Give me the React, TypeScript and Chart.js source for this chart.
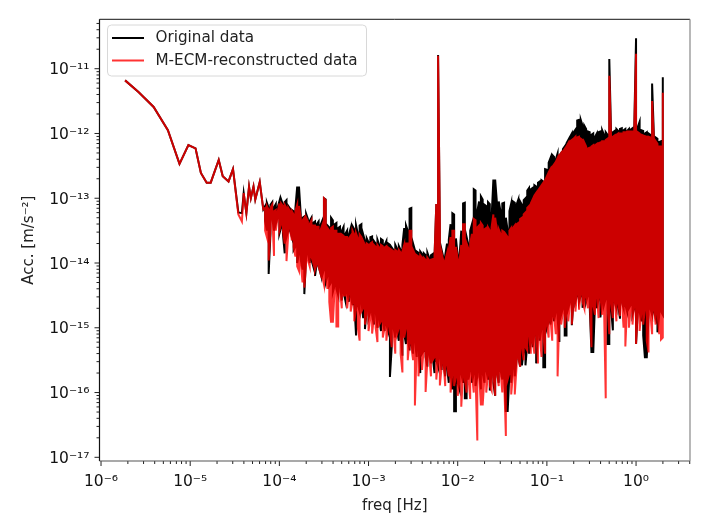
import React, { useEffect, useRef } from "react";
import { Chart, registerables } from "chart.js";

Chart.register(...registerables);

// log10 of frequency [Hz] and log10 of acceleration
const lowLogFreq = [-5.73, -5.58, -5.41, -5.25, -5.12, -5.02, -4.94, -4.88, -4.815, -4.77, -4.68, -4.635, -4.57, -4.52, -4.46, -4.42, -4.4, -4.37, -4.34, -4.32, -4.29, -4.27, -4.22, -4.18];
const lowBlack = [-11.18, -11.36, -11.59, -11.95, -12.47, -12.18, -12.23, -12.61, -12.76, -12.76, -12.41, -12.66, -12.74, -12.55, -13.22, -13.23, -12.92, -13.23, -12.82, -13.0, -12.82, -13.02, -12.75, -13.17];
const lowRed = [-11.18, -11.36, -11.59, -11.95, -12.47, -12.18, -12.23, -12.61, -12.76, -12.76, -12.41, -12.66, -12.74, -12.55, -13.25, -13.36, -12.92, -13.23, -12.82, -13.0, -12.82, -13.02, -12.75, -13.17];

const denseLogFreq = [
  -4.16, -4.14, -4.12, -4.1, -4.08, -4.06, -4.04, -4.02, -4.0, -3.98,
  -3.96, -3.94, -3.92, -3.9, -3.88, -3.86, -3.84, -3.82, -3.8, -3.78,
  -3.76, -3.74, -3.72, -3.7, -3.68, -3.66, -3.64, -3.62, -3.6, -3.58,
  -3.56, -3.54, -3.52, -3.5, -3.48, -3.46, -3.44, -3.42, -3.4, -3.38,
  -3.36, -3.34, -3.32, -3.3, -3.28, -3.26, -3.24, -3.22, -3.2, -3.18,
  -3.16, -3.14, -3.12, -3.1, -3.08, -3.06, -3.04, -3.02, -3.0, -2.98,
  -2.96, -2.94, -2.92, -2.9, -2.88, -2.86, -2.84, -2.82, -2.8, -2.78,
  -2.76, -2.74, -2.72, -2.7, -2.68, -2.66, -2.64, -2.62, -2.6, -2.58,
  -2.56, -2.54, -2.52, -2.5, -2.48, -2.46, -2.44, -2.42, -2.4, -2.38,
  -2.36, -2.34, -2.32, -2.3, -2.28, -2.26, -2.24, -2.22, -2.2, -2.18,
  -2.16, -2.14, -2.12, -2.1, -2.08, -2.06, -2.04, -2.02, -2.0, -1.98,
  -1.96, -1.94, -1.92, -1.9, -1.88, -1.86, -1.84, -1.82, -1.8, -1.78,
  -1.76, -1.74, -1.72, -1.7, -1.68, -1.66, -1.64, -1.62, -1.6, -1.58,
  -1.56, -1.54, -1.52, -1.5, -1.48, -1.46, -1.44, -1.42, -1.4, -1.38,
  -1.36, -1.34, -1.32, -1.3, -1.28, -1.26, -1.24, -1.22, -1.2, -1.18,
  -1.16, -1.14, -1.12, -1.1, -1.08, -1.06, -1.04, -1.02, -1.0, -0.98,
  -0.96, -0.94, -0.92, -0.9, -0.88, -0.86, -0.84, -0.82, -0.8, -0.78,
  -0.76, -0.74, -0.72, -0.7, -0.68, -0.66, -0.64, -0.62, -0.6, -0.58,
  -0.56, -0.54, -0.52, -0.5, -0.48, -0.46, -0.44, -0.42, -0.4, -0.38,
  -0.36, -0.34, -0.32, -0.3, -0.28, -0.26, -0.24, -0.22, -0.2, -0.18,
  -0.16, -0.14, -0.12, -0.1, -0.08, -0.06, -0.04, -0.02, 0.0, 0.02,
  0.04, 0.06, 0.08, 0.1, 0.12, 0.14, 0.16, 0.18, 0.2, 0.22,
  0.24, 0.26, 0.28, 0.3,
];

const blackHigh = [
  -13.12, -13.07, -13.15, -13.1, -13.06, -13.14, -13.09, -13.15, -13.05, -13.02,
  -13.1, -13.06, -13.03, -13.12, -13.16, -13.18, -13.2, -13.15, -12.82, -12.82,
  -13.25, -13.3, -13.28, -13.24, -13.32, -13.35, -13.3, -13.38, -13.36, -13.4,
  -13.36, -13.42, -13.35, -13.0, -13.02, -13.42, -13.45, -13.3, -13.34, -13.4,
  -13.38, -13.46, -13.44, -13.5, -13.44, -13.55, -13.5, -13.56, -13.46, -13.43,
  -13.48, -13.42, -13.55, -13.42, -13.4, -13.56, -13.66, -13.62, -13.68, -13.6,
  -13.59, -13.66, -13.7, -13.64, -13.72, -13.63, -13.65, -13.72, -13.66, -13.7,
  -13.72, -13.76, -13.8, -13.72, -13.78, -13.74, -13.8, -13.72, -13.46, -13.42,
  -13.5, -13.16, -13.15, -13.7, -13.8, -13.82, -13.84, -13.82, -13.86, -13.85,
  -13.88, -13.84, -13.92, -13.88, -13.86, -13.9, -13.09, -10.79, -13.46, -13.8,
  -13.92, -13.88, -13.7, -13.64, -13.4, -13.23, -13.25, -13.62, -13.88, -13.92,
  -13.5, -13.08, -13.07, -13.6, -13.72, -13.5, -13.4, -12.86, -12.88, -13.2,
  -13.05, -12.97, -13.02, -13.1, -13.12, -13.06, -13.09, -13.3, -12.71, -12.71,
  -13.07, -13.05, -13.2, -13.08, -13.07, -13.3, -13.5, -13.2, -13.08, -13.05,
  -13.07, -13.1, -13.02, -13.05, -13.1, -13.03, -13.0, -12.88, -12.84, -12.86,
  -12.84, -12.8, -12.82, -12.76, -12.74, -12.72, -12.74, -12.55, -12.56, -12.45,
  -12.38, -12.33, -12.36, -12.4, -12.31, -12.34, -12.3, -12.24, -12.2, -12.15,
  -12.1, -12.05, -12.0, -11.98, -11.94, -11.8, -11.79, -11.79, -11.88, -11.88,
  -11.93, -11.97, -11.98, -12.02, -12.0, -12.05, -12.0, -11.98, -11.97, -11.95,
  -12.02, -11.98, -12.02, -10.85, -12.0, -11.98, -11.96, -11.93, -11.96, -11.93,
  -11.92, -11.95, -11.93, -11.96, -11.93, -11.94, -11.92, -11.9, -10.53, -11.9,
  -11.82, -11.95, -11.96, -12.0, -11.98, -12.0, -12.02, -11.23, -12.03, -12.06,
  -12.08, -12.13, -12.12, -11.13,
];

const blackLow = [
  -13.35, -13.5, -14.17, -13.55, -13.3, -13.5, -13.4, -13.3, -13.55, -13.45,
  -13.55, -13.85, -13.6, -13.5, -13.5, -13.6, -13.8, -13.75, -14.0, -13.85,
  -13.95, -14.1, -14.48, -13.9, -13.85, -14.0, -13.95, -14.05, -14.2, -14.0,
  -14.05, -14.15, -14.2, -14.1, -14.3, -14.2, -14.35, -14.3, -14.45, -14.35,
  -14.4, -14.5, -14.35, -14.58, -14.45, -14.58, -14.45, -14.6, -14.5, -14.65,
  -14.6, -15.12, -14.65, -14.75, -14.6, -14.85, -15.02, -14.7, -14.85, -14.75,
  -14.8, -14.95, -14.75, -15.0, -14.85, -15.05, -14.9, -15.05, -14.95, -15.05,
  -15.76, -15.3, -15.0, -15.15, -15.05, -15.2, -15.05, -15.43, -15.1, -15.25,
  -15.15, -15.35, -15.25, -15.4, -15.2, -15.45, -15.3, -15.7, -15.4, -15.35,
  -15.45, -15.6, -15.4, -15.55, -15.45, -15.7, -15.5, -15.6, -15.45, -15.65,
  -15.55, -15.75, -15.6, -15.85, -15.7, -15.95, -16.29, -16.29, -15.85, -15.95,
  -15.7, -15.85, -16.09, -16.09, -15.8, -15.65, -15.85, -15.7, -15.9, -15.75,
  -15.65, -15.95, -15.7, -15.85, -15.65, -15.8, -15.97, -15.7, -15.85, -16.05,
  -15.7, -15.85, -15.65, -15.8, -15.7, -16.3, -16.3, -15.7, -15.85, -15.6,
  -15.75, -15.5, -15.45, -15.6, -15.58, -15.35, -15.58, -15.25, -15.4, -15.2,
  -15.3, -15.1, -15.55, -15.05, -15.2, -15.0, -15.61, -15.61, -15.0, -14.9,
  -14.95, -14.8, -14.9, -14.75, -14.85, -15.22, -14.8, -14.7, -15.12, -15.12,
  -14.7, -14.6, -14.96, -14.55, -14.6, -14.5, -14.6, -14.5, -14.69, -14.55,
  -14.6, -14.5, -14.65, -15.39, -15.39, -14.6, -14.7, -14.55, -14.84, -14.6,
  -14.65, -14.55, -15.25, -15.25, -14.7, -15.04, -14.6, -14.7, -14.65, -14.86,
  -14.6, -14.7, -14.65, -14.75, -14.7, -14.65, -14.8, -14.7, -15.25, -14.75,
  -14.75, -14.9, -15.12, -15.47, -15.47, -14.8, -14.7, -14.8, -14.75, -14.85,
  -15.07, -14.8, -14.75, -14.8,
];

const redHigh = [
  -13.15, -13.12, -13.18, -13.15, -13.1, -13.2, -13.18, -13.22, -13.08, -13.08,
  -13.12, -13.1, -13.15, -13.15, -13.2, -13.2, -13.25, -13.2, -13.1, -13.12,
  -13.3, -13.34, -13.3, -13.3, -13.36, -13.4, -13.34, -13.42, -13.42, -13.44,
  -13.44, -13.5, -13.42, -13.0, -13.03, -13.46, -13.5, -13.46, -13.44, -13.5,
  -13.5, -13.55, -13.55, -13.56, -13.58, -13.6, -13.6, -13.62, -13.58, -13.5,
  -13.56, -13.54, -13.62, -13.56, -13.6, -13.66, -13.72, -13.7, -13.72, -13.7,
  -13.68, -13.72, -13.75, -13.72, -13.76, -13.72, -13.74, -13.76, -13.74, -13.76,
  -13.78, -13.8, -13.82, -13.8, -13.82, -13.8, -13.84, -13.82, -13.72, -13.7,
  -13.7, -13.5, -13.5, -13.8, -13.86, -13.88, -13.9, -13.88, -13.92, -13.92,
  -13.95, -13.92, -13.96, -13.95, -13.94, -13.9, -13.09, -10.8, -13.45, -13.85,
  -13.98, -13.96, -13.85, -13.8, -13.6, -13.5, -13.5, -13.75, -13.94, -13.98,
  -13.72, -13.4, -13.4, -13.7, -13.78, -13.7, -13.55, -13.32, -13.34, -13.45,
  -13.42, -13.38, -13.42, -13.48, -13.46, -13.45, -13.5, -13.45, -13.25, -13.3,
  -13.5, -13.48, -13.55, -13.5, -13.52, -13.56, -13.6, -13.5, -13.46, -13.46,
  -13.42, -13.4, -13.38, -13.32, -13.3, -13.25, -13.22, -13.15, -13.12, -13.08,
  -13.02, -12.96, -12.92, -12.88, -12.84, -12.8, -12.76, -12.72, -12.66, -12.6,
  -12.55, -12.52, -12.48, -12.44, -12.38, -12.34, -12.3, -12.28, -12.24, -12.2,
  -12.15, -12.12, -12.1, -12.08, -12.05, -12.06, -12.05, -12.08, -12.1, -12.14,
  -12.2, -12.23, -12.22, -12.2, -12.18, -12.18, -12.16, -12.15, -12.14, -12.12,
  -12.12, -12.1, -12.08, -11.11, -12.08, -12.05, -12.03, -12.02, -12.0, -12.0,
  -12.0, -11.98, -11.98, -11.97, -11.97, -11.97, -11.97, -11.96, -10.77, -11.98,
  -12.0, -12.02, -12.03, -12.04, -12.05, -12.05, -12.06, -11.5, -12.1, -12.12,
  -12.16, -12.2, -12.2, -11.37,
];

const redLow = [
  -13.5, -13.6, -13.96, -13.5, -13.25, -13.89, -13.5, -13.3, -13.5, -13.4,
  -13.5, -13.7, -13.97, -13.55, -13.45, -13.65, -13.75, -13.9, -14.05, -14.12,
  -14.0, -14.3, -14.38, -14.0, -13.95, -14.05, -13.9, -14.0, -14.1, -14.0,
  -14.05, -14.15, -14.2, -14.33, -14.2, -14.4, -14.6, -14.92, -14.92, -14.4,
  -14.98, -14.98, -14.4, -14.7, -14.5, -14.5, -14.7, -14.45, -14.75, -14.6,
  -14.9, -14.7, -15.0, -15.2, -14.75, -14.7, -14.95, -14.75, -15.05, -14.85,
  -15.09, -14.85, -15.0, -15.22, -14.95, -14.9, -15.15, -15.0, -15.2, -14.95,
  -15.05, -15.3, -15.05, -15.4, -15.1, -15.0, -15.4, -15.69, -15.15, -15.0,
  -15.5, -15.2, -15.3, -15.5, -16.2, -15.3, -15.75, -15.35, -15.65, -15.3,
  -15.99, -15.5, -15.4, -15.75, -15.5, -15.45, -15.8, -15.5, -15.89, -15.6,
  -15.5, -15.9, -15.55, -15.75, -16.0, -15.7, -15.9, -15.75, -16.05, -15.8,
  -16.22, -15.7, -15.8, -16.0, -15.75, -16.1, -15.7, -16.0, -15.75, -16.74,
  -15.7, -16.2, -16.2, -15.75, -16.0, -15.7, -15.9, -15.97, -15.7, -16.05,
  -15.7, -15.9, -15.65, -16.0, -15.75, -16.67, -15.8, -15.7, -16.03, -15.7,
  -16.03, -15.6, -15.45, -15.6, -15.3, -15.5, -15.3, -15.35, -15.1, -15.4,
  -15.2, -15.4, -15.05, -15.55, -15.1, -15.45, -15.1, -15.4, -14.95, -15.15,
  -14.85, -15.2, -14.8, -15.1, -15.75, -14.8, -14.95, -14.75, -15.0, -14.75,
  -14.9, -14.6, -14.95, -14.55, -14.75, -14.45, -14.72, -14.45, -14.6, -14.7,
  -14.5, -14.7, -14.5, -15.3, -14.65, -14.8, -14.5, -14.85, -14.5, -14.8,
  -14.6, -16.09, -14.65, -15.1, -14.6, -14.85, -14.55, -14.9, -14.6, -14.82,
  -14.55, -15.0, -15.29, -14.65, -15.0, -14.7, -14.95, -14.65, -15.25, -14.7,
  -15.05, -14.75, -14.95, -14.7, -15.2, -15.38, -14.75, -15.1, -14.7, -14.95,
  -14.75, -15.1, -15.18, -15.15,
];

const xMajor = [-6, -5, -4, -3, -2, -1, 0];
const yMajor = [-17, -16, -15, -14, -13, -12, -11];
const SUP: Record<string, string> = { "-": "\u207B", "0": "\u2070", "1": "\u00B9", "2": "\u00B2", "3": "\u00B3", "4": "\u2074", "5": "\u2075", "6": "\u2076", "7": "\u2077", "8": "\u2078", "9": "\u2079" };
const powerLabel = (v: number) => {
  const e = Math.round(Math.log10(v));
  return "10" + String(e).split("").map((c) => SUP[c]).join("");
};

const buildSeries = (lowY: number[], high: number[], low: number[]) => {
  const pts: { x: number; y: number }[] = [];
  lowLogFreq.forEach((f, i) => pts.push({ x: 10 ** f, y: 10 ** lowY[i] }));
  denseLogFreq.forEach((f, i) => {
    const a = i % 2 === 0 ? high[i] : low[i];
    const b = i % 2 === 0 ? low[i] : high[i];
    pts.push({ x: 10 ** f, y: 10 ** a });
    pts.push({ x: 10 ** f, y: 10 ** b });
  });
  return pts;
};

const FONT = "'DejaVu Sans'";

const framePlugin = {
  id: "frame",
  afterDraw(chart: any) {
    const { ctx, chartArea: a, scales } = chart;
    ctx.save();
    const tick = (x1: number, y1: number, x2: number, y2: number, w: number) => {
      ctx.lineWidth = w;
      ctx.beginPath();
      ctx.moveTo(x1, y1);
      ctx.lineTo(x2, y2);
      ctx.stroke();
    };
    ctx.strokeStyle = "#222";
    for (let d = -6; d <= 0; d++) {
      for (let m = 1; m <= 9; m++) {
        const v = m * 10 ** d;
        if (v > scales.x.max) continue;
        const p = scales.x.getPixelForValue(v);
        tick(p, a.bottom, p, a.bottom + (m === 1 ? 5 : 3), 1);
      }
    }
    for (let d = -17; d <= -11; d++) {
      for (let m = 1; m <= 9; m++) {
        const v = m * 10 ** d;
        if (v > scales.y.max || v < scales.y.min) continue;
        const p = scales.y.getPixelForValue(v);
        tick(a.left, p, a.left - (m === 1 ? 5 : 3), p, 1);
      }
    }
    ctx.strokeStyle = "#111";
    tick(a.left, a.top, a.right, a.top, 1);
    tick(a.left, a.top, a.left, a.bottom, 1.2);
    ctx.strokeStyle = "#555";
    tick(a.left, a.bottom, a.right, a.bottom, 1.2);
    ctx.strokeStyle = "#888";
    tick(a.right, a.top, a.right, a.bottom, 1.2);

    // legend box
    const x0 = 107.5, y0 = 25, w = 259, h = 51, r = 4;
    ctx.beginPath();
    ctx.roundRect(x0, y0, w, h, r);
    ctx.fillStyle = "rgba(255,255,255,0.8)";
    ctx.fill();
    ctx.strokeStyle = "#d8d8d8";
    ctx.lineWidth = 1;
    ctx.stroke();
    const rows = [38, 60.5];
    chart.data.datasets
      .slice()
      .sort((p: any, q: any) => q.order - p.order)
      .forEach((ds: any, i: number) => {
        ctx.strokeStyle = ds.borderColor;
        tick(112, rows[i], 144, rows[i], 2);
        ctx.fillStyle = "#222";
        ctx.font = `15.2px ${FONT}`;
        ctx.textBaseline = "middle";
        ctx.textAlign = "left";
        ctx.fillText(ds.label, 155.5, rows[i] + 0.5);
      });
    ctx.restore();
  },
};

export default function App() {
  const ref = useRef<HTMLCanvasElement>(null);
  useEffect(() => {
    const chart = new Chart(ref.current as HTMLCanvasElement, {
      type: "line",
      data: {
        datasets: [
          {
            label: "Original data",
            data: buildSeries(lowBlack, blackHigh, blackLow),
            borderColor: "#000000",
            borderWidth: 2,
            pointRadius: 0,
            tension: 0,
            order: 1,
          },
          {
            label: "M-ECM-reconstructed data",
            data: buildSeries(lowRed, redHigh, redLow),
            borderColor: "rgba(255,0,0,0.8)",
            borderWidth: 2,
            pointRadius: 0,
            tension: 0,
            order: 0,
          },
        ],
      },
      options: {
        animation: false,
        responsive: false,
        devicePixelRatio: 1,
        events: [],
        layout: { padding: { left: 0, top: 17, right: 16, bottom: 0 } },
        plugins: { legend: { display: false }, tooltip: { enabled: false } },
        scales: {
          x: {
            type: "logarithmic",
            min: 10 ** -6.017,
            max: 10 ** 0.605,
            grid: { display: false, drawTicks: false },
            border: { display: false },
            afterBuildTicks: (s: any) => {
              s.ticks = xMajor.map((e) => ({ value: 10 ** e }));
            },
            afterFit: (s: any) => {
              s.height = 69;
            },
            ticks: {
              autoSkip: false,
              maxRotation: 0,
              padding: 12,
              color: "#111",
              font: { family: FONT, size: 15.5 },
              callback: (v: any) => powerLabel(Number(v)),
            },
            title: {
              display: true,
              text: "freq [Hz]",
              color: "#222",
              font: { family: FONT, size: 15 },
              padding: { top: 0, bottom: 15 },
            },
          },
          y: {
            type: "logarithmic",
            min: 10 ** -17.057,
            max: 10 ** -10.237,
            grid: { display: false, drawTicks: false },
            border: { display: false },
            afterBuildTicks: (s: any) => {
              s.ticks = yMajor.map((e) => ({ value: 10 ** e }));
            },
            afterFit: (s: any) => {
              s.width = 99.5;
            },
            ticks: {
              autoSkip: false,
              padding: 10,
              labelOffset: 1.5,
              color: "#111",
              font: { family: FONT, size: 15.5 },
              callback: (v: any) => powerLabel(Number(v)),
            },
            title: {
              display: true,
              text: "Acc. [m/s\u207B\u00B2]",
              color: "#222",
              font: { family: FONT, size: 15 },
              padding: { top: 20, bottom: 0 },
            },
          },
        },
      },
      plugins: [framePlugin],
    } as any);
    return () => chart.destroy();
  }, []);
  return (
    <canvas
      ref={ref}
      width={706}
      height={530}
      style={{ position: "absolute", left: 0, top: 0, display: "block", width: 706, height: 530, filter: "blur(0.35px)" }}
    />
  );
}
